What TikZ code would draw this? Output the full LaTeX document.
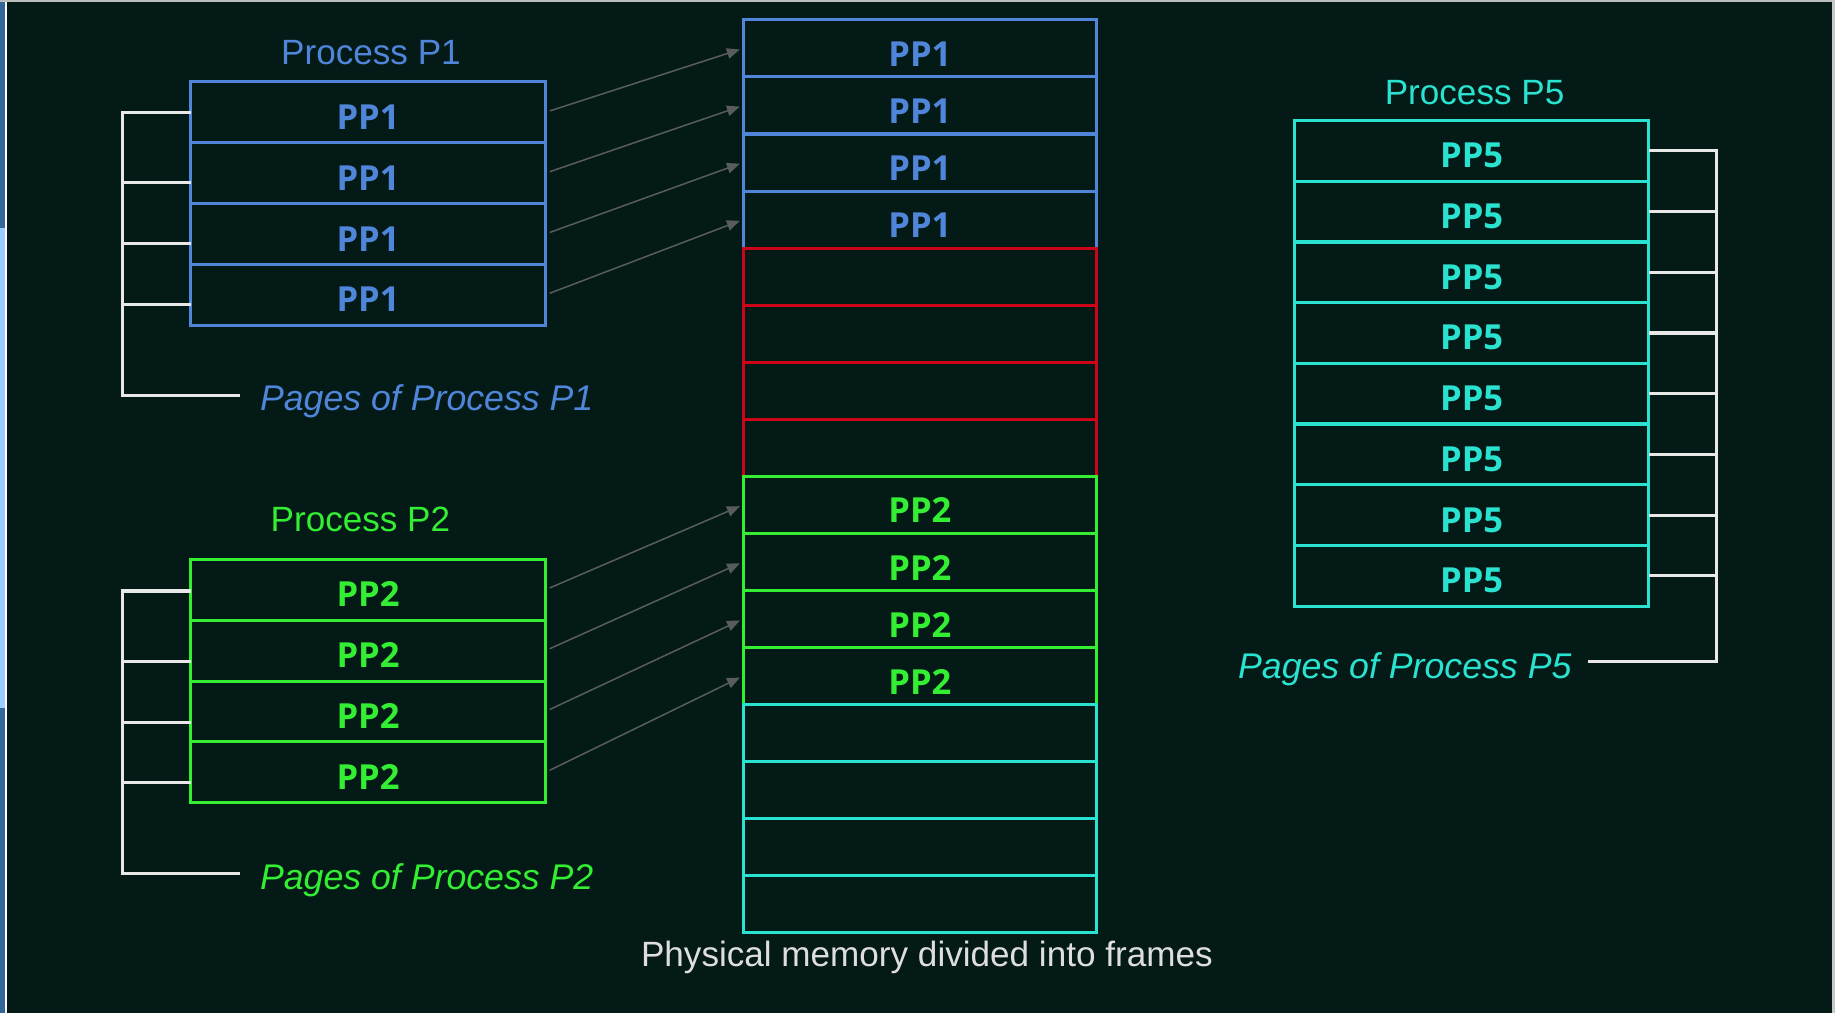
\documentclass[tikz,border=0pt]{standalone}
\usepackage{fontspec}
\setmainfont{Liberation Sans}
\newfontfamily\ppfont{Open Sans}
\usetikzlibrary{arrows.meta}

\definecolor{bg}{RGB}{3,26,22}
\definecolor{cblue}{RGB}{80,134,218}
\definecolor{cred}{RGB}{206,4,24}
\definecolor{cgreen}{RGB}{52,238,52}
\definecolor{ccyan}{RGB}{42,226,208}
\definecolor{clink}{RGB}{88,92,90}
\definecolor{cbrk}{RGB}{232,232,232}
\definecolor{ccap}{RGB}{222,222,222}
\definecolor{stripdark}{RGB}{51,102,153}
\definecolor{striplight}{RGB}{153,204,255}

\tikzset{
  page/.style={draw, line width=2.6pt, minimum width=303pt, minimum height=52pt,
    inner sep=0pt, outer sep=0pt, text height=29pt, text depth=0pt,
    font=\ppfont\bfseries\fontsize{29.5}{32}\selectfont},
  framebox/.style={page, minimum width=302pt, minimum height=48.75pt, text height=31pt},
  title/.style={font=\fontsize{30}{34}\selectfont, inner sep=0pt},
  lab/.style={font=\itshape\fontsize{30.5}{34}\selectfont, inner sep=0pt},
  brk/.style={draw=cbrk, line width=2.6pt},
  link/.style={draw=clink, line width=1.3pt, shorten <=4pt, shorten >=3pt,
    -{Triangle[length=11pt,width=9pt]}},
}

\begin{document}
\begin{tikzpicture}[x=1pt,y=-1pt]
  % canvas
  \fill[bg] (0,0) rectangle (1568,866);
  \useasboundingbox (0,0) rectangle (1568,866);
  % window edge on the left, thin light edges on top and right
  \fill[stripdark] (0,0) rectangle (4.3,195);
  \fill[striplight] (0,195) rectangle (4.3,605);
  \fill[stripdark] (0,605) rectangle (4.3,866);
  \fill[white] (4.3,0) rectangle (6,866);
  \fill[cbrk!80!bg] (0,0) rectangle (1568,1.5);
  \fill[cbrk!85!bg] (1565,0) rectangle (1568,866);

  % ---------- Process P1 ----------
  \node[title, text=cblue] (t1) at (317,45) {Process P1};
  \foreach \i in {1,...,4}
    \node[page, draw=cblue, text=cblue] (p1r\i) at (314.5,{44+52*\i}) {PP1};

  % ---------- Process P2 ----------
  \node[title, text=cgreen] (t2) at (308,444) {Process P2};
  \foreach \i in {1,...,4}
    \node[page, draw=cgreen, text=cgreen] (p2r\i) at (314.5,{452+52*\i}) {PP2};

  % ---------- physical memory ----------
  \foreach \i in {1,...,4}
    \node[framebox, draw=cblue, text=cblue] (m\i) at (786,{-7.375+48.75*\i}) {PP1};
  \foreach \i in {5,...,8}
    \node[framebox, draw=cred] (m\i) at (786,{-7.375+48.75*\i}) {};
  \foreach \i in {9,...,12}
    \node[framebox, draw=cgreen, text=cgreen] (m\i) at (786,{-7.375+48.75*\i}) {PP2};
  \foreach \i in {13,...,16}
    \node[framebox, draw=ccyan] (m\i) at (786,{-7.375+48.75*\i}) {};
  \node[title, text=ccap] (cap) at (792,818) {Physical memory divided into frames};

  % ---------- Process P5 ----------
  \node[title, text=ccyan] (t5) at (1260,79) {Process P5};
  \foreach \i in {1,...,8}
    \node[page, draw=ccyan, text=ccyan] (p5r\i) at (1257.5,{77.06+51.875*\i}) {PP5};

  % ---------- page labels ----------
  \node[lab, text=cblue, anchor=west] (l1) at (222,343) {Pages of Process P1};
  \node[lab, text=cgreen, anchor=west] (l2) at (222,752) {Pages of Process P2};
  \node[lab, text=ccyan, anchor=east] (l5) at (1343,572) {Pages of Process P5};

  % ---------- brackets ----------
  \coordinate (b1) at (105,338);
  \draw[brk] (p1r1.west) -| (b1) -- ([xshift=-17pt]b1 -| l1.west);
  \foreach \i in {2,3,4}
    \draw[brk] ([yshift=-8pt]p1r\i.west) -- ([yshift=-8pt]p1r\i.west -| b1);

  \coordinate (b2) at (105,746);
  \draw[brk] ([yshift=-1pt]p2r1.west) -| (b2) -- ([xshift=-17pt]b2 -| l2.west);
  \foreach \i in {2,3,4}
    \draw[brk] ([yshift=-9pt]p2r\i.west) -- ([yshift=-9pt]p2r\i.west -| b2);

  \coordinate (b5) at (1467,565);
  \draw[brk] (p5r1.east) -| (b5) -- ([xshift=14pt]b5 -| l5.east);
  \foreach \i in {2,...,8}
    \draw[brk] (p5r\i.east) -- (p5r\i.east -| b5);

  % ---------- page-to-frame mapping ----------
  \foreach \i in {1,...,4}
    \draw[link] (p1r\i.east) -- (m\i.west);
  \foreach \i/\j in {1/9,2/10,3/11,4/12}
    \draw[link] (p2r\i.east) -- (m\j.west);
\end{tikzpicture}
\end{document}
